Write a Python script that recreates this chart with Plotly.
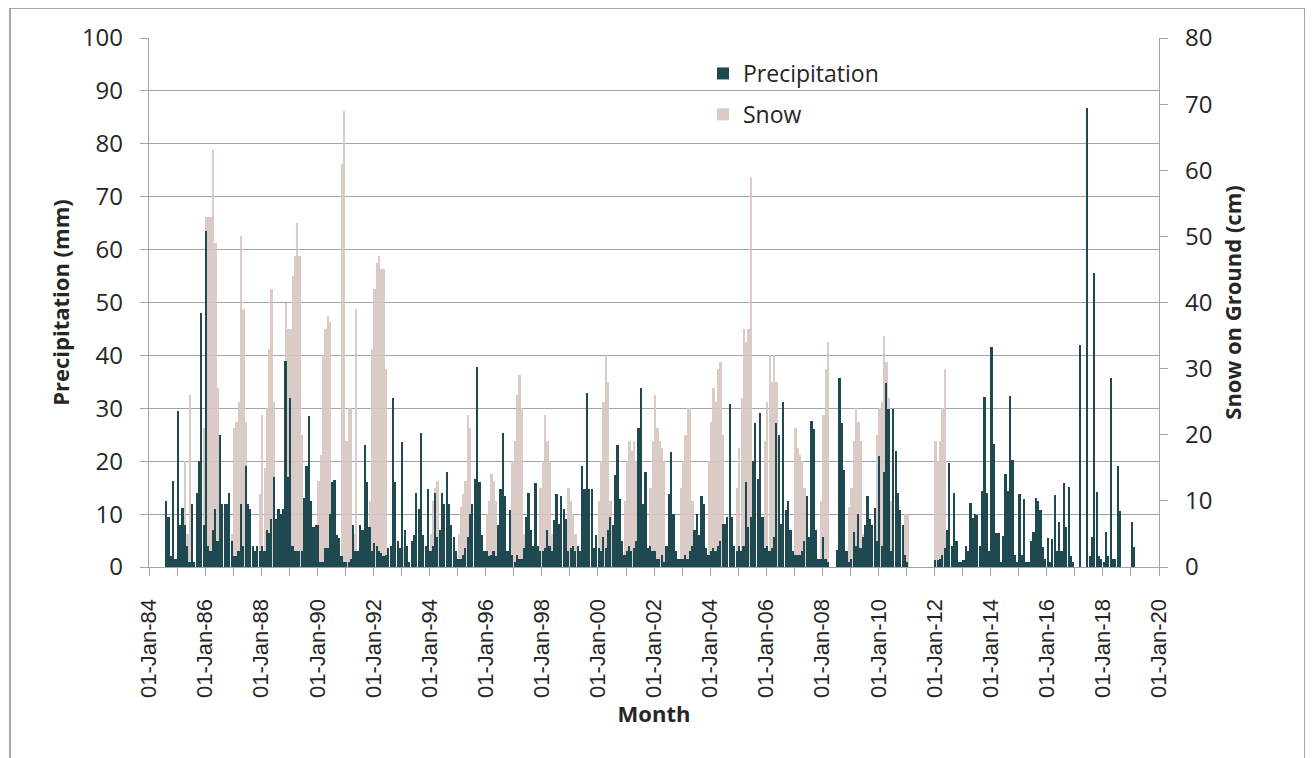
import itertools
import pandas as pd
import plotly.graph_objects as go

N = None
YEARS = list(range(1984, 2020))

# Monthly precipitation (mm), one row per year, Jan..Dec
PRECIP_MM = [
    [N, N, N, N, N, N, N, 12.5, 9.5, 2, 16.3, 1.5],          # 1984
    [29.5, 7.9, 11.2, 8, 4, 1, 12, 1, 14, 20, 48, 8],        # 1985
    [63.5, 4, 3, 7, 11, 5, 25, 12, 12, 12, 14, 5],           # 1986
    [2, 2, 3, 12, 4, 19, 12, 11, 4, 3, 4, 3],                # 1987
    [4, 3, 7, 6.5, 9, 17, 9, 11, 10, 11, 39, 17],            # 1988
    [32, 4, 3, 3, 3, 3, 13, 19, 28.5, 12.5, 7.5, 8],         # 1989
    [8, 1, 1, 3.5, 3.5, 10, 16, 16.4, 6, 5.5, 2, 1],         # 1990
    [1, 1, 1.5, 8, 3, 3, 8, 7, 23, 16, 7.5, 3],              # 1991
    [4.6, 4, 3, 2.6, 2, 2.3, 3.6, 4, 32, 16, 5, 3.6],        # 1992
    [23.6, 7, 4, 1, 5, 6, 14, 11, 25.3, 6, 4, 14.8],         # 1993
    [3, 4, 14, 5.6, 7, 14, 12, 18, 12, 8, 5.6, 3],           # 1994
    [1.6, 1.6, 2.3, 3.6, 5.6, 10, 12, 16.7, 37.8, 16, 6, 3], # 1995
    [3, 2, 2.3, 3, 2, 8, 14.8, 25.3, 13.5, 3, 10.8, 2.3],    # 1996
    [1, 2.3, 1.6, 1.6, 3.6, 9.5, 14, 7, 4, 15.8, 4, 3],      # 1997
    [3, 3.6, 7, 4, 3, 8.9, 13.8, 8.2, 13.5, 11, 9, 3],       # 1998
    [3.6, 4, 3, 4, 3, 19, 14.8, 32.8, 14.8, 14.8, 3.6, 6],   # 1999
    [3.6, 3, 5.6, 3.6, 7, 9.5, 8, 17.4, 23, 12.8, 5, 2.3],   # 2000
    [3, 4, 3, 3.6, 5, 26.3, 33.8, 12, 18, 3.6, 4, 3],        # 2001
    [3, 1.6, 1.6, 2.3, 1, 4, 13.8, 21.7, 10, 3, 1.6, 1.6],   # 2002
    [1.6, 2.3, 1.6, 3, 4, 7, 10, 6, 13.5, 12, 3.6, 2.3],     # 2003
    [3, 3.6, 3, 4, 5, 8.2, 8.2, 9.5, 30.9, 9.5, 4, 3],       # 2004
    [4, 3, 4, 16, 7.5, 9.5, 20, 27.2, 16.7, 29.2, 9.5, 3.6], # 2005
    [4, 3, 3.6, 5.6, 27.2, 25, 8.2, 31.2, 10.8, 12.5, 7, 3], # 2006
    [2.3, 2.3, 2.3, 3, 5, 13.5, 5.6, 27.6, 26, 7, 1.6, 1.6], # 2007
    [5.6, 1.5, 1, N, N, N, 3.3, 35.8, 27.2, 18.4, 3, 1],     # 2008
    [1.6, 6.6, 4, 10, 3.6, 5.6, 8, 13.5, 9, 8, 11.2, 5],     # 2009
    [21, 4, 18, 34.8, 29.9, 3, 29.9, 22, 14, 10.8, 8, 2.3],  # 2010
    [1, N, N, N, N, N, N, N, N, N, N, N],                    # 2011
    [1.3, 1.3, 1.6, 2.3, 3.6, 7, 19.7, 4, 14, 5, 1, 1],      # 2012
    [1.3, 4, 3, 12.1, 9.2, 10, 9.8, 4, 14.4, 32.2, 14, 3],   # 2013
    [41.5, 23.3, 6.4, 6.4, 1, 5.9, 17.5, 14.4, 32.3, 20.3, 2.3, 1],  # 2014
    [13.8, 2.3, 12.8, 1, 1, 5, 6.6, 13.1, 12.5, 10.8, 3.7, 1.6],     # 2015
    [5.4, 1, 5.3, 13.6, 3, 8.5, 3, 15.8, 7.5, 15.1, 2, 1],   # 2016
    [N, N, 42, N, N, 86.7, 2, 5.6, 55.5, 14.1, 2, 1.6],      # 2017
    [1, 6.6, 2, 35.8, 1.6, 1.6, 19, 10.5, N, N, N, N],       # 2018
    [8.5, 3.7, N, N, N, N, N, N, N, N, N, N],                # 2019
]

# Monthly snow on ground (cm), one row per year, Jan..Dec
SNOW_CM = [
    [N, N, N, N, N, N, N, 0, 0, 0, 0, 0],                    # 1984
    [0, 0, 0, 16, 5, 26, 0, 0, 0, 0, 0, 21],                 # 1985
    [53, 53, 53, 63, 49, 27, 0, 0, 0, 0, 0, 5],              # 1986
    [21, 22, 25, 50, 39, 22, 0, 0, 0, 0, 0, 11],             # 1987
    [23, 15, 24, 33, 42, 25, 0, 0, 0, 0, 40, 36],            # 1988
    [36, 44, 47, 52, 47, 20, 0, 0, 0, 0, 0, 5],              # 1989
    [13, 17, 32, 36, 38, 37, 0, 0, 0, 0, 61, 69],            # 1990
    [19, 24, 24, 5, 39, 0, 0, 0, 0, 0, 10, 33],              # 1991
    [42, 46, 47, 45, 45, 30, 0, 0, 0, 0, 0, 0],              # 1992
    [3, 3, 2, 0, 0, 0, 0, 0, 0, 0, 0, 0],                    # 1993
    [5, 10, 12, 13, 0, 0, 0, 0, 0, 0, 0, 0],                 # 1994
    [5, 9, 11, 13, 23, 21, 0, 0, 0, 0, 0, 0],                # 1995
    [8, 10, 14, 13, 10, 0, 0, 0, 0, 0, 0, 16],               # 1996
    [19, 26, 29, 24, 5, 0, 0, 0, 0, 0, 0, 12],               # 1997
    [16, 23, 19, 16, 5, 0, 0, 0, 0, 0, 0, 12],               # 1998
    [10, 8, 5, 0, 0, 0, 0, 0, 0, 0, 0, 0],                   # 1999
    [10, 16, 25, 32, 28, 10, 0, 0, 0, 0, 0, 10],             # 2000
    [16, 19, 17.6, 19, 16, 0, 0, 0, 0, 0, 12, 19],           # 2001
    [26, 21, 19, 18, 16, 0, 0, 0, 0, 0, 0, 12],              # 2002
    [16, 20, 24, 24, 10, 0, 0, 0, 0, 0, 0, 16],              # 2003
    [22, 27, 25, 30, 31, 20, 0, 0, 0, 0, 0, 12],             # 2004
    [18, 25.5, 36, 34, 36, 59, 0, 0, 0, 0, 0, 19],           # 2005
    [25, 32, 28, 32, 28, 10, 0, 0, 0, 0, 0, 0],              # 2006
    [21, 18, 17, 16, 12, 0, 0, 0, 0, 0, 0, 10],              # 2007
    [23, 30, 34, 0, 0, 0, 0, 0, 0, 0, 0, 9],                 # 2008
    [12, 19, 24, 22, 19, 5, 0, 0, 0, 0, 0, 20],              # 2009
    [24, 25, 35, 31, 25.5, 10, 0, 0, 0, 0, 0, 8],            # 2010
    [8, N, N, N, N, N, N, N, N, N, N, N],                    # 2011
    [19, 16, 19, 24, 30, 0, N, N, N, N, N, N],               # 2012
] + [[N] * 12 for _ in range(2013, 2020)]

TICK_FORMAT = "%d-%b-%y"

months = pd.date_range(f"{YEARS[0]}-01-01", periods=12 * len(YEARS), freq="MS") + pd.Timedelta(days=14)
precip = list(itertools.chain.from_iterable(PRECIP_MM))
snow = list(itertools.chain.from_iterable(SNOW_CM))

DAY_MS = 86400000
PRECIP_COLOR = "#1e4950"
SNOW_COLOR = "#d6c6c2"
GRID = "#a3a3a3"
TXT = "#262626"

fig = go.Figure()
fig.add_trace(go.Bar(
    x=months, y=precip, name="Precipitation", yaxis="y2",
    marker=dict(color=PRECIP_COLOR, line=dict(width=0)),
    width=22 * DAY_MS, legendgroup="p",
))
fig.add_trace(go.Bar(
    x=months, y=snow, name="Snow", yaxis="y",
    marker=dict(color=SNOW_COLOR, line=dict(width=0)),
    width=30 * DAY_MS, opacity=0.9, legendgroup="s",
))

# The page body adds an 8px offset, so the figure is sized to fit the window.
OFF = 8
W, H = 1313 - OFF, 758 - OFF
L, T = 149 - OFF, 38 - OFF
R = W - (1159 - OFF)
B = H - (567 - OFF)
pw, ph = W - L - R, H - T - B


def px_x(px):
    return (px - OFF - L) / pw


def px_y(py):
    return (H - B - (py - OFF)) / ph


fig.update_layout(
    width=W, height=H,
    margin=dict(l=L, r=R, t=T, b=B, pad=0),
    paper_bgcolor="white", plot_bgcolor="white",
    barmode="overlay", bargap=0,
    font=dict(family="Open Sans", color=TXT),
    showlegend=True,
    legend=dict(
        x=px_x(703), y=px_y(52), xanchor="left", yanchor="top",
        bgcolor="rgba(0,0,0,0)", font=dict(family="Open Sans", size=23, color=TXT),
        traceorder="grouped", tracegroupgap=8,
    ),
    xaxis=dict(
        type="date", range=["1984-01-01", "2020-01-01"],
        tick0="1984-01-01", dtick="M24", tickformat=TICK_FORMAT,
        tickangle=-90, ticks="outside", ticklen=8, tickcolor=GRID,
        minor=dict(dtick="M12", ticks="outside", ticklen=8, tickcolor=GRID, showgrid=False),
        showline=True, linecolor=GRID, linewidth=1.3, showgrid=False,
        tickfont=dict(family="Liberation Sans", size=22, color=TXT),
        title=dict(text="<b>Month</b>", font=dict(family="Open Sans", size=22, color=TXT), standoff=8),
        ticklabelstandoff=14,
    ),
    yaxis=dict(
        side="right", range=[0, 80], dtick=10, showgrid=False,
        ticks="outside", ticklen=8, tickcolor=GRID,
        showline=True, linecolor=GRID, linewidth=1.3, zeroline=False,
        tickfont=dict(family="Open Sans", size=24, color=TXT),
        title=dict(text="<b>Snow on Ground (cm)</b>", font=dict(family="Open Sans", size=22, color=TXT), standoff=14),
        ticklabelstandoff=12,
    ),
    yaxis2=dict(
        overlaying="y", side="left", range=[0, 100], dtick=10,
        showgrid=True, gridcolor=GRID, gridwidth=1.3,
        ticks="outside", ticklen=8, tickcolor=GRID,
        showline=True, linecolor=GRID, linewidth=1.3, zeroline=False,
        tickfont=dict(family="Open Sans", size=24, color=TXT),
        title=dict(text="<b>Precipitation (mm)</b>", font=dict(family="Open Sans", size=22, color=TXT), standoff=6),
        ticklabelstandoff=12,
    ),
    shapes=[dict(
        type="rect", xref="paper", yref="paper", layer="below",
        x0=px_x(10), x1=px_x(1305), y0=px_y(770), y1=px_y(8),
        line=dict(color="#8c8c8c", width=1.5), fillcolor="rgba(0,0,0,0)",
    )],
)

fig.write_html("out.html")
